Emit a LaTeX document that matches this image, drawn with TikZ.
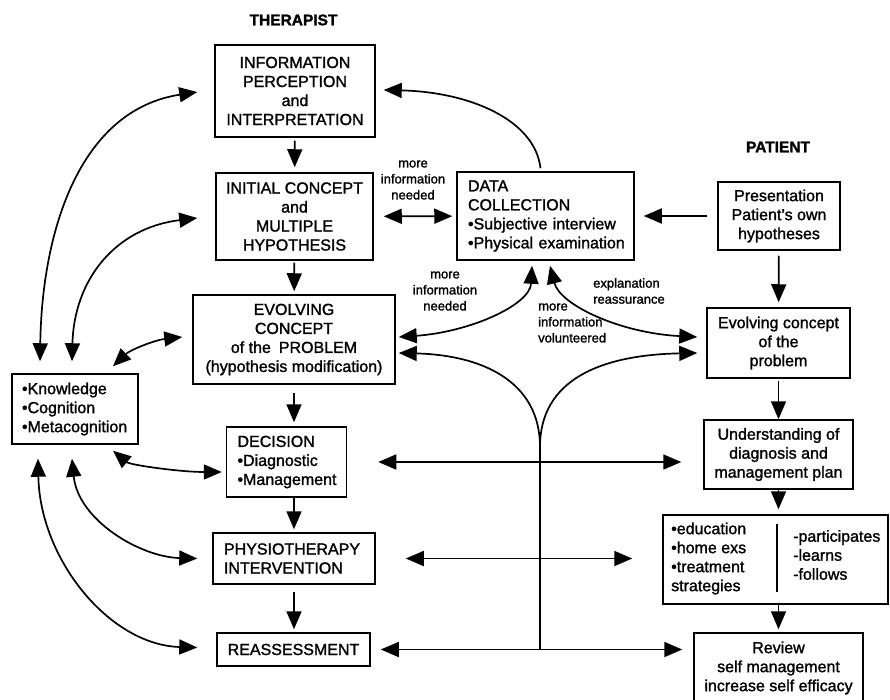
\documentclass[tikz,border=0pt]{standalone}
\usepackage{fontspec}
\setmainfont{Liberation Sans}[FakeBold=1.4]
\usetikzlibrary{arrows.meta,calc}
\begin{document}
\begin{tikzpicture}[x=1pt,y=-1pt,
 box/.style={draw, line width=1.5pt, inner sep=0pt, font=\fontsize{16}{19}\selectfont, align=center},
 lbox/.style={box, align=left},
 conn/.style={line width=1.7pt, -{Triangle[length=18pt,width=15pt]}},
 conn2/.style={line width=1.7pt, {Triangle[length=18pt,width=15pt]}-{Triangle[length=18pt,width=15pt]}},
 plain/.style={line width=1.7pt},
 lab/.style={font=\fontsize{13}{16}\selectfont, align=center, inner sep=0pt},
 head/.style={font=\bfseries\fontsize{15.5}{18}\selectfont, inner sep=0pt},
 txt/.style={font=\fontsize{16}{19}\selectfont, align=left, inner sep=0pt, anchor=west}]
\fill[white] (0,0) rectangle (890,700);
\useasboundingbox (0,0) rectangle (890,700);

% headers
\node[head] (ther) at (293.5,20) {THERAPIST};
\node[head] (pat) at (778,147) {PATIENT};

% therapist column
\node[box, minimum width=160pt, minimum height=92pt] (info) at (295,91) {INFORMATION\\PERCEPTION\\and\\INTERPRETATION};
\node[box, minimum width=157pt, minimum height=87pt] (init) at (294.5,216.5) {INITIAL CONCEPT\\and\\MULTIPLE\\HYPOTHESIS};
\node[lbox, text width=167pt, inner xsep=5pt, minimum height=88pt] (data) at (545.5,216) {\hspace*{6pt}DATA\\\hspace*{6pt}COLLECTION\\\hspace*{6pt}•Subjective interview\\\hspace*{6pt}•Physical examination};
\node[box, minimum width=202pt, minimum height=89pt] (evol) at (294,339.5) {EVOLVING\\CONCEPT\\of the\enspace PROBLEM\\(hypothesis modification)};
\node[lbox, text width=106pt, inner xsep=10pt, minimum height=70pt] (know) at (75,409) {•Knowledge\\•Cognition\\•Metacognition};
\node[lbox, text width=98pt, inner xsep=11pt, minimum height=70pt] (dec) at (286.5,462) {DECISION\\•Diagnostic\\•Management};
\node[lbox, text width=140pt, inner xsep=11pt, minimum height=51pt] (phys) at (294,558.5) {PHYSIOTHERAPY\\INTERVENTION};
\node[box, minimum width=153pt, minimum height=33pt] (reas) at (293.5,649.5) {REASSESSMENT};

% patient column
\node[box, minimum width=122pt, minimum height=68pt] (pres) at (779,216) {Presentation\\Patient's own\\hypotheses};
\node[box, minimum width=143pt, minimum height=70pt] (pevol) at (778.5,343) {Evolving concept\\of the\\problem};
\node[box, minimum width=149pt, minimum height=69pt] (und) at (778.5,454.5) {Understanding of\\diagnosis and\\management plan};
\node[box, minimum width=225pt, minimum height=89pt] (edu) at (775.5,559.5) {};
\node[txt] (eduL) at (671,558.5) {•education\\•home exs\\•treatment\\strategies};
\node[txt] (eduR) at (793,555) {-participates\\-learns\\-follows};
\draw[plain] ($(edu.north)+(1.5,10)$) -- ($(edu.south)+(1.5,-13)$);
\node[box, minimum width=169pt, minimum height=70pt] (rev) at (778.5,668) {Review\\self management\\increase self efficacy};

% labels
\node[lab] (l1) at (413,180) {more\\information\\needed};
\node[lab] (l2) at (445,291) {more\\information\\needed};
\node[lab, align=left, anchor=west] (l3) at (593,291) {explanation\\reassurance};
\node[lab, align=left, anchor=west] (l4) at (538,323) {more\\information\\volunteered};

% vertical flow
\draw[conn, shorten <=3pt, shorten >=5pt] (info) -- (init);
\draw[conn, shorten <=2pt, shorten >=3pt] (init) -- (evol);
\draw[conn, shorten <=8pt, shorten >=4pt] (evol.south) -- (evol.south |- dec.north);
\draw[conn, shorten >=3pt] (dec.south -| phys.north) -- (phys.north);
\draw[conn, shorten <=7pt, shorten >=3pt] (phys.south) -- (phys.south |- reas.north);
\draw[conn, shorten <=5pt, shorten >=5pt] (pres) -- (pevol);
\draw[conn, shorten <=2pt] (pevol) -- (und);
\draw[conn, shorten >=5pt] (und.south) -- (und.south |- edu.north);
\draw[conn, shorten >=3pt] (edu.south -| rev.north) -- (rev.north);
\draw[conn, shorten <=10pt, shorten >=9pt] (pres) -- (data);
\draw[conn2, shorten <=10pt, shorten >=4pt] (init) -- (data);
\draw[conn] ($(data.north)+(-5,-3)$) .. controls (535,120) and (470,92) .. ($(info.east)+(8,-1)$);

% central hub
\coordinate (cusp) at (540,447);
\draw[plain] (cusp) -- (cusp |- reas.east);
\draw[conn2, shorten <=31pt, shorten >=22pt] (dec.east) -- (dec.east -| und.west);
\draw[conn2, shorten <=30pt, shorten >=30pt] (phys.east) -- (phys.east -| edu.west);
\draw[conn2, shorten <=10pt, shorten >=11pt] (reas.east) -- (reas.east -| rev.west);
\draw[conn] (cusp) .. controls (540,380) and (480,355) .. ($(evol.east)+(3,13.5)$);
\draw[conn] (cusp) .. controls (540,380) and (600,355) .. ($(pevol.west)+(-9,10)$);
\draw[conn2] ($(data.south)+(-13.5,5)$) .. controls (530,305) and (470,332) .. ($(evol.east)+(3,-2.5)$);
\draw[conn2] ($(data.south)+(4.5,5)$) .. controls (560,305) and (620,333) .. ($(pevol.west)+(-9,-6)$);

% knowledge links
\draw[conn2] ($(know.north)+(-35,-12)$) .. controls (42,230) and (80,110) .. ($(info.west)+(-17,1)$);
\draw[conn2] ($(know.north)+(-3,-12)$) .. controls (74,280) and (115,228) .. ($(init.west)+(-18,1.5)$);
\draw[conn2] ($(know.north)+(38,-7)$) .. controls (130,350) and (155,340) .. ($(evol.west)+(-10,-2.5)$);
\draw[conn2] ($(know.south)+(38,6)$) .. controls (130,465) and (180,472) .. ($(dec.west)+(-4,10)$);
\draw[conn2] ($(know.south)+(-3,14)$) .. controls (78,520) and (140,557) .. ($(phys.west)+(-15,0)$);
\draw[conn2] ($(know.south)+(-37,14)$) .. controls (40,560) and (110,645) .. ($(reas.west)+(-19,-2)$);
\end{tikzpicture}
\end{document}
